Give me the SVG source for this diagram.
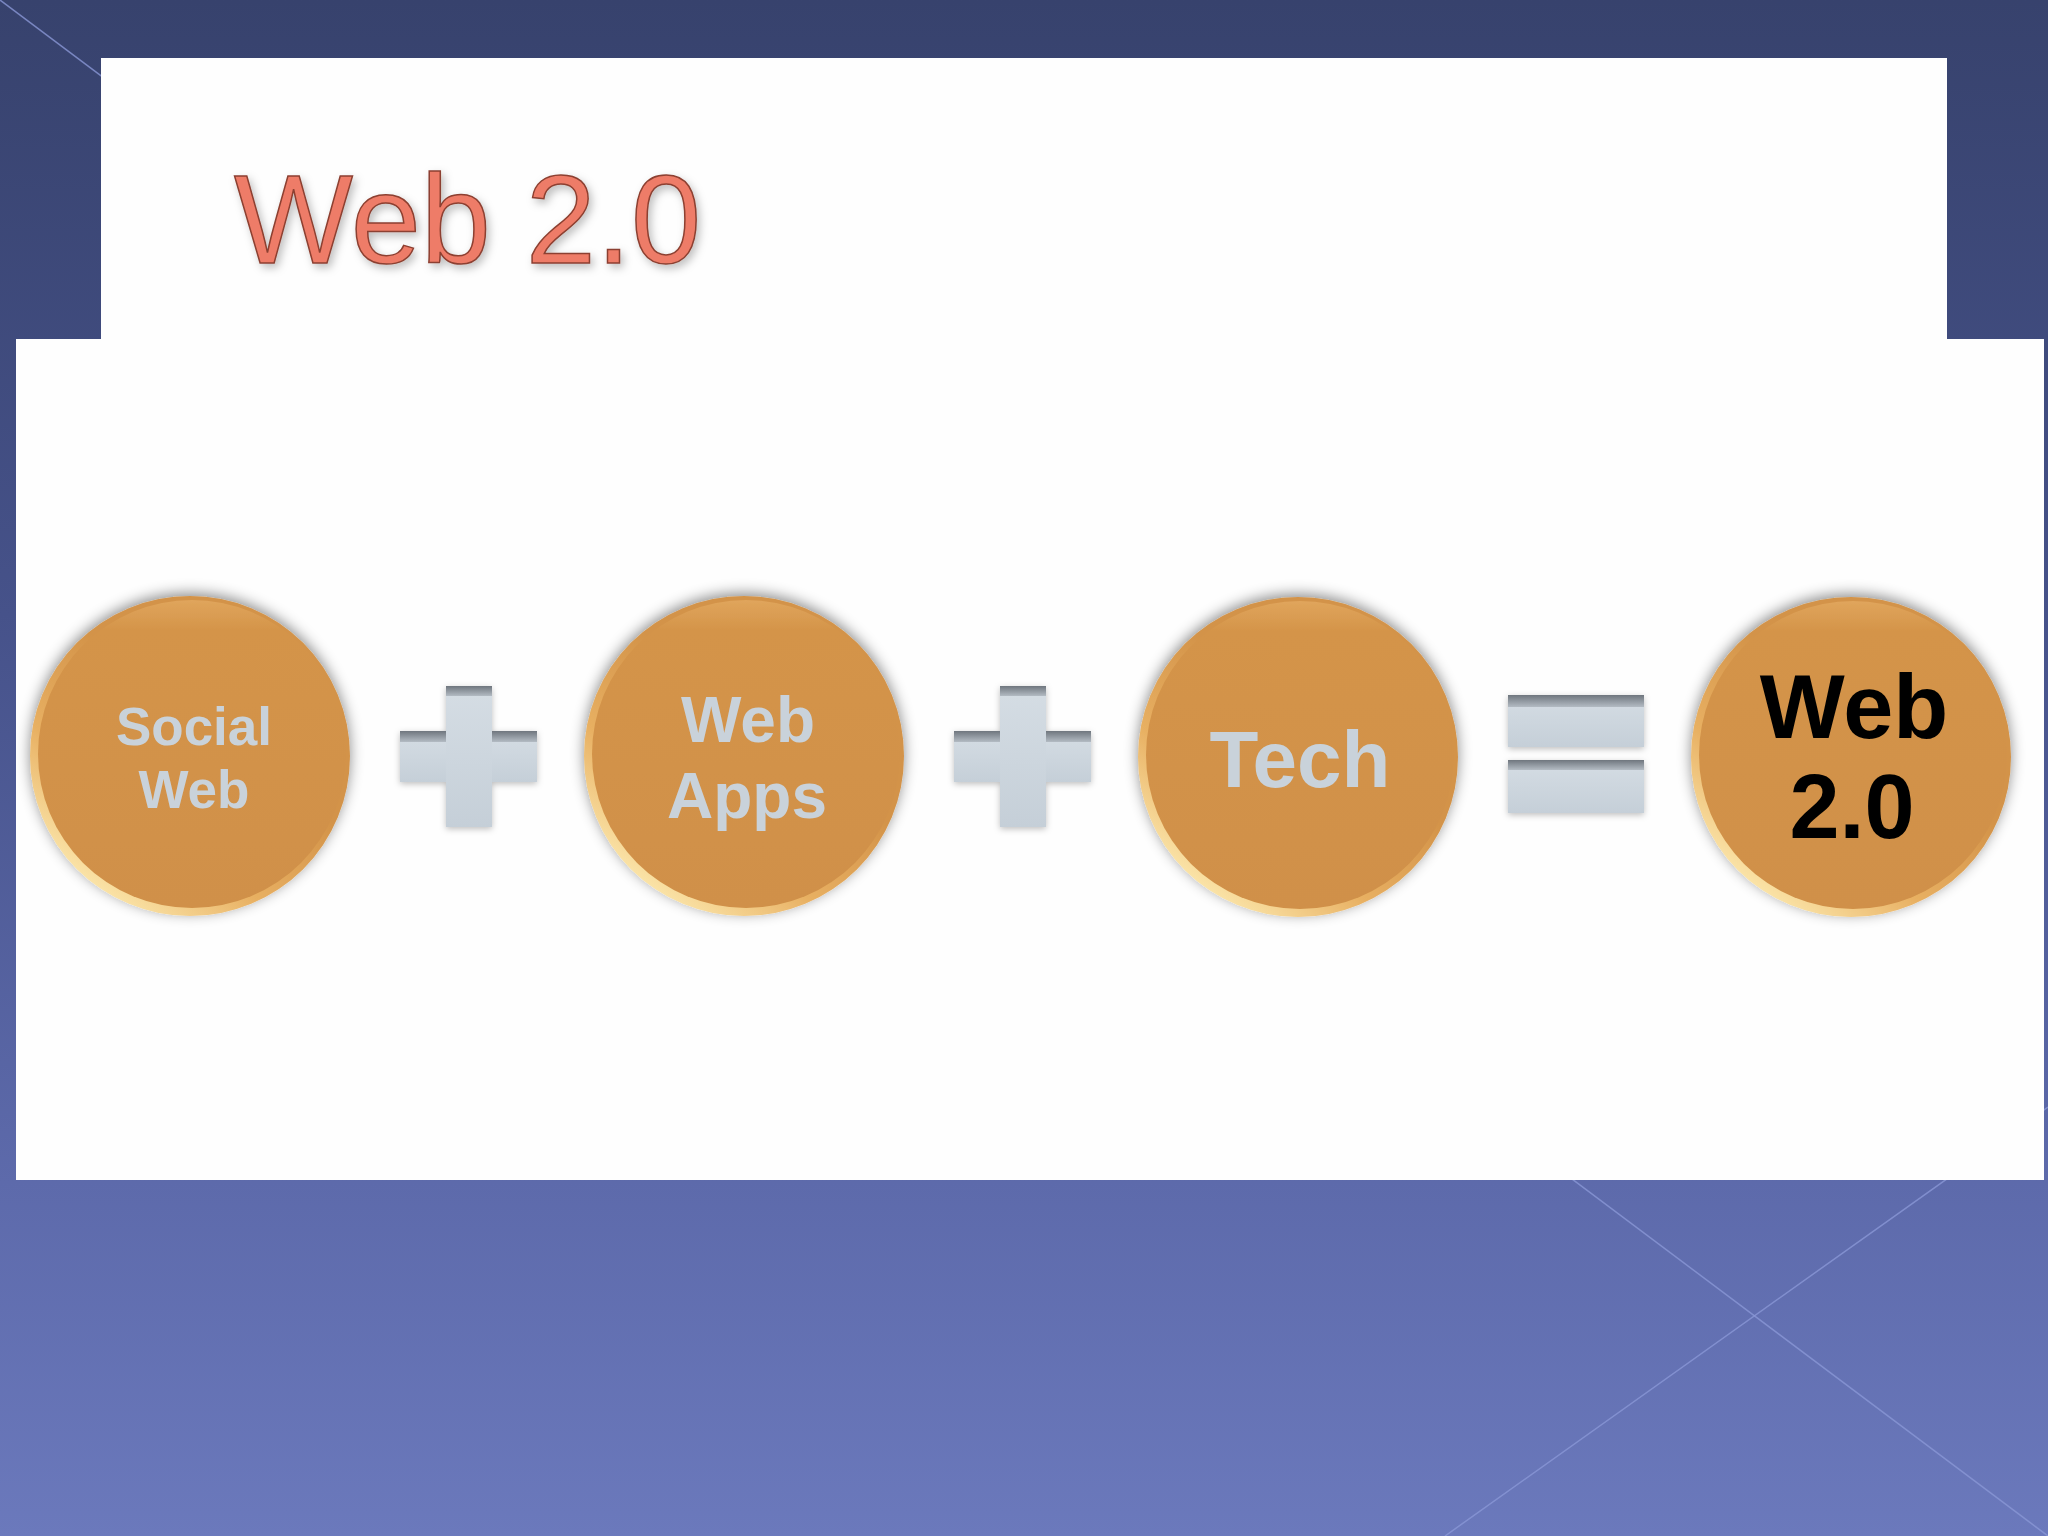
<svg xmlns="http://www.w3.org/2000/svg" width="2048" height="1536" viewBox="0 0 2048 1536">
<defs>
<linearGradient id="bg" x1="0" y1="0" x2="0" y2="1">
<stop offset="0" stop-color="#37426d"/>
<stop offset="0.4" stop-color="#46528a"/>
<stop offset="0.77" stop-color="#5d6aab"/>
<stop offset="1" stop-color="#6b79bc"/>
</linearGradient>
<linearGradient id="rim" x1="0.15" y1="0.95" x2="0.85" y2="0.05">
<stop offset="0" stop-color="#fff0b8"/>
<stop offset="0.3" stop-color="#e8b062"/>
<stop offset="0.6" stop-color="#d39349"/>
<stop offset="1" stop-color="#d39349"/>
</linearGradient>
<linearGradient id="face" x1="0" y1="0" x2="0" y2="1">
<stop offset="0" stop-color="#e0a55c"/>
<stop offset="0.1" stop-color="#d49449"/>
<stop offset="1" stop-color="#d09048"/>
</linearGradient>
<linearGradient id="bevel" x1="0" y1="0" x2="0" y2="1">
<stop offset="0" stop-color="#6f767e"/>
<stop offset="1" stop-color="#b3bbc3"/>
</linearGradient>
<linearGradient id="bar" x1="0" y1="0" x2="0" y2="1">
<stop offset="0" stop-color="#d5dde4"/>
<stop offset="1" stop-color="#c5cfd8"/>
</linearGradient>
<filter id="shadow" x="-20%" y="-20%" width="140%" height="140%">
<feDropShadow dx="0" dy="-3" stdDeviation="7" flood-color="#000" flood-opacity="0.45"/>
</filter>
<filter id="opshadow" x="-20%" y="-20%" width="140%" height="140%">
<feDropShadow dx="0" dy="2" stdDeviation="3" flood-color="#000" flood-opacity="0.25"/>
</filter>
<filter id="tshadow" x="-10%" y="-10%" width="120%" height="130%">
<feDropShadow dx="3" dy="4" stdDeviation="4" flood-color="#000" flood-opacity="0.25"/>
</filter>
</defs>
<style>
.lbl{font-family:"Liberation Sans",Arial,sans-serif;font-weight:bold;fill:#c9d2da;text-anchor:middle}
.blk{font-family:"Liberation Sans",Arial,sans-serif;font-weight:bold;fill:#000;text-anchor:middle}
.deco{stroke:#8a97d6;stroke-width:1.5;fill:none;opacity:0.8}
</style>
<rect x="0" y="0" width="2048" height="1536" fill="url(#bg)"/>
<line class="deco" x1="0" y1="0" x2="2048" y2="1536"/>
<line class="deco" x1="1445" y1="1536" x2="2048" y2="1107"/>
<rect x="101" y="58" width="1846" height="300" fill="#fefefe"/>
<rect x="16" y="339" width="2028" height="841" fill="#fefefe"/>
<g id="title">
<text x="234" y="263" font-family="'Liberation Sans',Arial,sans-serif" font-size="126" fill="#ee7c67" stroke="#8c3f30" stroke-width="1.5" filter="url(#tshadow)">Web 2.0</text>
</g>
<g id="connectors"></g>
<g id="social-web" filter="url(#shadow)">
<circle cx="190" cy="756" r="160" fill="url(#rim)"/>
<circle cx="192" cy="754" r="154" fill="url(#face)"/>
<text class="lbl" x="194" y="745" font-size="53">Social</text>
<text class="lbl" x="194" y="808" font-size="53">Web</text>
</g>
<g id="plus-1" filter="url(#opshadow)">
<rect x="400" y="731" width="137" height="51" fill="url(#bar)"/>
<rect x="400" y="731" width="137" height="11" fill="url(#bevel)"/>
<rect x="446" y="686" width="46" height="141" fill="url(#bar)"/>
<rect x="446" y="686" width="46" height="10" fill="url(#bevel)"/>
</g>
<g id="web-apps" filter="url(#shadow)">
<circle cx="744" cy="756" r="160" fill="url(#rim)"/>
<circle cx="746" cy="754" r="154" fill="url(#face)"/>
<text class="lbl" x="748" y="742" font-size="64">Web</text>
<text class="lbl" x="747" y="818" font-size="64">Apps</text>
</g>
<g id="plus-2" filter="url(#opshadow)">
<rect x="954" y="731" width="137" height="51" fill="url(#bar)"/>
<rect x="954" y="731" width="137" height="11" fill="url(#bevel)"/>
<rect x="1000" y="686" width="46" height="141" fill="url(#bar)"/>
<rect x="1000" y="686" width="46" height="10" fill="url(#bevel)"/>
</g>
<g id="tech" filter="url(#shadow)">
<circle cx="1298" cy="757" r="160" fill="url(#rim)"/>
<circle cx="1300" cy="755" r="154" fill="url(#face)"/>
<text class="lbl" x="1300" y="787" font-size="80">Tech</text>
</g>
<g id="equals" filter="url(#opshadow)">
<rect x="1508" y="695" width="136" height="52" fill="url(#bar)"/>
<rect x="1508" y="695" width="136" height="12" fill="url(#bevel)"/>
<rect x="1508" y="760" width="136" height="53" fill="url(#bar)"/>
<rect x="1508" y="760" width="136" height="10" fill="url(#bevel)"/>
</g>
<g id="web-2-0" filter="url(#shadow)">
<circle cx="1851" cy="757" r="160" fill="url(#rim)"/>
<circle cx="1853" cy="755" r="154" fill="url(#face)"/>
<text class="blk" x="1854" y="738" font-size="90">Web</text>
<text class="blk" x="1852" y="838" font-size="90">2.0</text>
</g>
</svg>
